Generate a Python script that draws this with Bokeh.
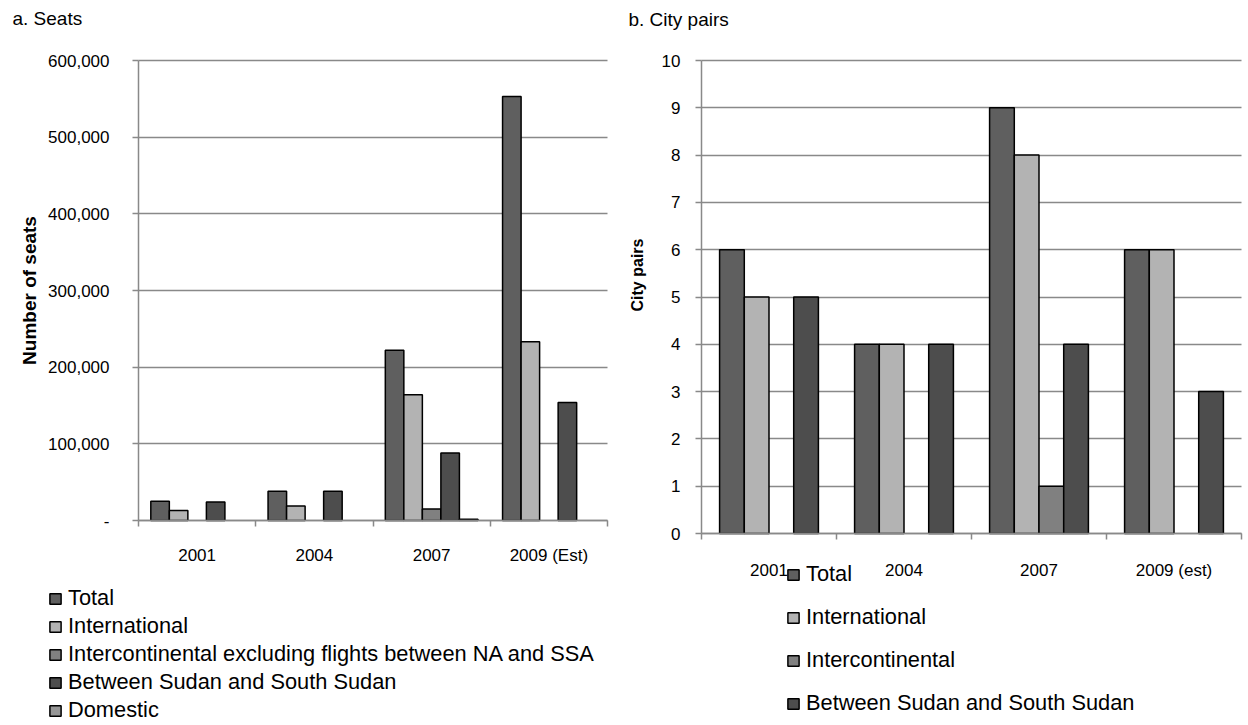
import numpy as np
from bokeh.plotting import figure
from bokeh.models import (Range1d, FixedTicker, Legend, LegendItem, Label,
                          NumeralTickFormatter, ColumnDataSource)
from bokeh.layouts import row
from bokeh.transform import dodge
from bokeh.embed import file_html
from bokeh.resources import INLINE

# ---------------- data ----------------
years_a = ["2001", "2004", "2007", "2009 (Est)"]
seats_total = [25000, 38000, 222000, 553000]
seats_international = [13000, 19000, 164000, 233000]
seats_intercontinental = [None, None, 15000, None]
seats_between = [24000, 38000, 88000, 154000]
seats_domestic = [None, None, 1500, None]
series_a = ["Total", "International",
            "Intercontinental excluding flights between NA and SSA",
            "Between Sudan and South Sudan", "Domestic"]
seat_ticks = [0, 100000, 200000, 300000, 400000, 500000, 600000]

years_b = ["2001", "2004", "2007", "2009 (est)"]
pairs_total = [6, 4, 9, 6]
pairs_international = [5, 4, 8, 6]
pairs_intercontinental = [None, None, 1, None]
pairs_between = [5, 4, 4, 3]
series_b = ["Total", "International", "Intercontinental",
            "Between Sudan and South Sudan"]
pair_ticks = list(range(0, 11))

colors_a = ["#5f5f5f", "#b3b3b3", "#808080", "#4d4d4d", "#969696"]
colors_b = ["#5f5f5f", "#b3b3b3", "#808080", "#4d4d4d"]

FONT = "Liberation Sans"
GRID = "#898989"
H = 725


def arr(v):
    return np.array([np.nan if x is None else x for x in v], dtype=float)


def make_panel(years, values, names, colors, width_frac, ymax, ticks_y,
               fig_w, ax_x, cat_px, ax_y0, ax_ytop, std_x, std_y):
    """The frame covers the whole canvas; axes are pinned at data zero."""
    n = len(years)
    x0 = -ax_x / cat_px
    x1 = (fig_w - ax_x) / cat_px
    upp = ymax / float(ax_y0 - ax_ytop)          # data units per pixel
    y0 = -(H - ax_y0) * upp
    y1 = ymax + ax_ytop * upp
    p = figure(width=fig_w, height=H, x_range=Range1d(x0, x1),
               y_range=Range1d(y0, y1), output_backend="svg",
               toolbar_location=None, min_border=0, min_border_left=0,
               min_border_right=0, min_border_top=0, min_border_bottom=0)
    p.outline_line_color = None
    p.xgrid.visible = False
    g = p.ygrid[0]
    g.ticker = FixedTicker(ticks=ticks_y)
    if "cross_bounds" in g.properties():
        g.cross_bounds = (0, n)
        g.bounds = (0, ymax)
        g.grid_line_color = GRID
        g.grid_line_width = 1.5
    else:
        g.visible = False
        p.segment(x0=[0] * len(ticks_y), x1=[n] * len(ticks_y), y0=ticks_y,
                  y1=ticks_y, line_color=GRID, line_width=1.5)

    centers = np.arange(n) + 0.5
    data = {"x": centers}
    for i, v in enumerate(values):
        data["s%d" % i] = arr(v)
    src = ColumnDataSource(data)
    k = len(values)
    items = []
    for i in range(k):
        off = (i - (k - 1) / 2.0) * width_frac
        r = p.vbar(x=dodge("x", off), top="s%d" % i, width=width_frac, bottom=0,
                   source=src, fill_color=colors[i], line_color="#000000",
                   line_width=1.5)
        items.append(LegendItem(label=names[i], renderers=[r]))

    for ax in (p.xaxis[0], p.yaxis[0]):
        ax.fixed_location = 0
        ax.axis_line_color = GRID
        ax.axis_line_width = 1.5
        ax.major_tick_line_color = GRID
        ax.major_tick_line_width = 1.5
        ax.minor_tick_line_color = GRID
        ax.minor_tick_line_width = 1.5
        ax.major_label_text_font = FONT
        ax.major_label_text_color = "#000000"
        ax.major_label_text_font_size = "17px"
    ya = p.yaxis[0]
    ya.bounds = (0, ymax)
    ya.ticker = FixedTicker(ticks=ticks_y)
    ya.major_tick_in = 0
    ya.major_tick_out = 6
    ya.major_label_standoff = std_y
    xa = p.xaxis[0]
    xa.bounds = (0, n)
    xa.ticker = FixedTicker(ticks=list(centers), minor_ticks=list(range(0, n + 1)))
    xa.major_label_overrides = {float(c): y for c, y in zip(centers, years)}
    xa.major_tick_in = 0
    xa.major_tick_out = 0
    xa.minor_tick_in = 0
    xa.minor_tick_out = 6
    xa.major_label_standoff = std_x
    return p, items


def legend(items, loc, spacing):
    return Legend(items=items, location=loc, orientation="vertical",
                  glyph_width=14, glyph_height=13, label_standoff=6,
                  spacing=spacing, label_height=20, padding=0, margin=0,
                  border_line_color=None, background_fill_alpha=0,
                  label_text_font=FONT, label_text_font_size="21.8px",
                  label_text_color="#000000")


def text(p, s, x, y, size, bold=False, angle=0.0, align="left"):
    p.add_layout(Label(x=x, y=H - y, x_units="screen", y_units="screen", text=s,
                       text_font=FONT, text_font_size=size,
                       text_font_style="bold" if bold else "normal",
                       text_color="#000000", angle=angle, text_align=align,
                       text_baseline="middle"))


# ---------------- panel a : seats ----------------
pa, items_a = make_panel(years_a,
                         [seats_total, seats_international, seats_intercontinental,
                          seats_between, seats_domestic],
                         series_a, colors_a, 0.158, 600000, seat_ticks,
                         615, 138, 117.25, 520, 60, 19, 23)
pa.yaxis[0].formatter = NumeralTickFormatter(format="0,0")
pa.yaxis[0].major_label_overrides = {0: "-"}
text(pa, "a. Seats", 12, 18, "19px")
text(pa, "Number of seats", 29, 290, "19px", bold=True, angle=np.pi / 2,
     align="center")
pa.add_layout(legend(items_a, (48, 2), 2), "center")

# ---------------- panel b : city pairs ----------------
pb, items_b = make_panel(years_b,
                         [pairs_total, pairs_international, pairs_intercontinental,
                          pairs_between],
                         series_b, colors_b, 0.183, 10, pair_ticks,
                         633, 86, 135.0, 533, 60, 21, 15)
text(pb, "b. City pairs", 13, 19, "19px")
text(pb, "City pairs", 21.5, 274.5, "16px", bold=True, angle=np.pi / 2,
     align="center")
pb.add_layout(legend(items_b, (171, 9), 17), "center")

layout = row(pa, pb)
open("out.html", "w").write(file_html(layout, INLINE))
